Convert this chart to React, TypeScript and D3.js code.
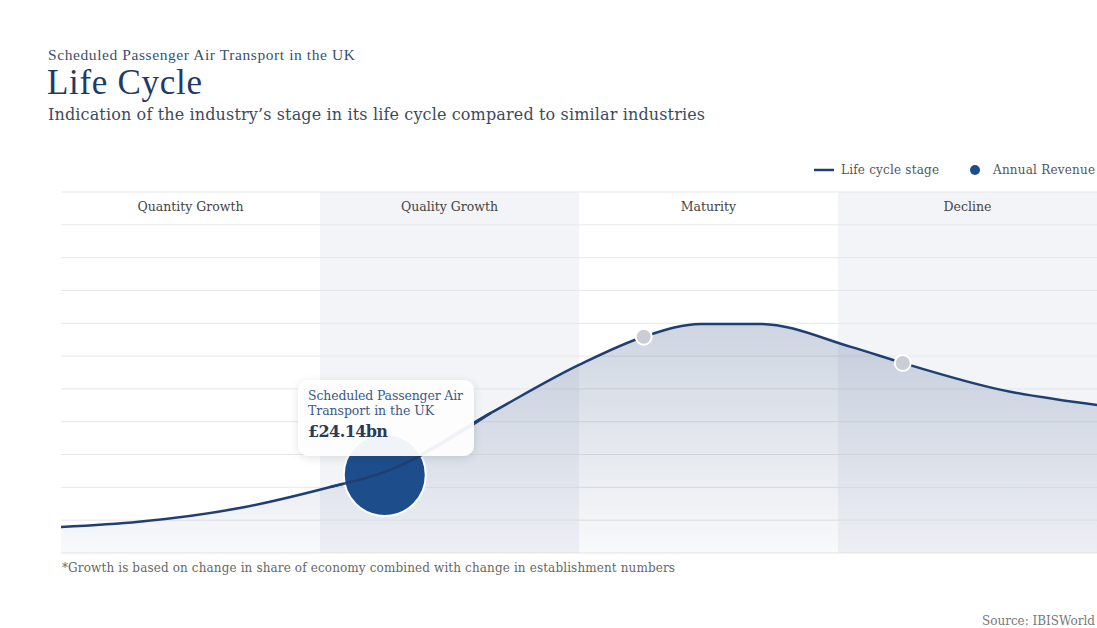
import React from "react";
import * as d3 from "d3";

const stages = ["Quantity Growth", "Quality Growth", "Maturity", "Decline"];
// life cycle curve: x in stage units (0..4), y in grid units (0..11)
const curveX = [0, 0.3, 0.69, 1.04, 1.25, 1.66, 2.0, 2.25, 2.47, 2.7, 3.05, 3.25, 3.63, 4.0];
const curveY = [0.79, 0.95, 1.37, 2.01, 2.47, 4.27, 5.73, 6.59, 6.98, 6.98, 6.28, 5.79, 4.97, 4.51];
const markerX = [2.25, 3.25];
const revenuePoint = { x: 1.25, label1: "Scheduled Passenger Air", label2: "Transport in the UK", value: "£24.14bn" };
const gridTicks = d3.range(0, 12);

const W = 1097;
const H = 628;
const left = 61;
const right = 1097;
const top = 192;
const bottom = 553;
const TIMES = "'Liberation Serif', 'Times New Roman', serif";
const SERIF = "'DejaVu Serif', Georgia, serif";

export default function App() {
  const x = d3.scaleLinear().domain([0, 4]).range([left, right]);
  const y = d3.scaleLinear().domain([0, 11]).range([bottom, top]);
  const pts: [number, number][] = curveX.map((v, i) => [v, curveY[i]]);
  const line = d3.line<[number, number]>().x((d) => x(d[0])).y((d) => y(d[1])).curve(d3.curveMonotoneX);
  const area = d3.area<[number, number]>().x((d) => x(d[0])).y0(y(0)).y1((d) => y(d[1])).curve(d3.curveMonotoneX);
  const pixPts: [number, number][] = pts.map((d) => [x(d[0]), y(d[1])]);
  const interp = (xv: number) => {
    const px = x(xv);
    for (let i = 0; i < pixPts.length - 1; i++) {
      if (px >= pixPts[i][0] && px <= pixPts[i + 1][0]) {
        const t = (px - pixPts[i][0]) / (pixPts[i + 1][0] - pixPts[i][0]);
        return pixPts[i][1] + t * (pixPts[i + 1][1] - pixPts[i][1]);
      }
    }
    return pixPts[pixPts.length - 1][1];
  };
  const bandW = x(1) - x(0);
  const rx = x(revenuePoint.x);
  const ry = interp(revenuePoint.x);

  return (
    <svg width={W} height={H} style={{ position: "absolute", left: 0, top: 0, background: "#fff" }}>
      <defs>
        <linearGradient id="aGrad" gradientUnits="userSpaceOnUse" x1={0} y1={y(7)} x2={0} y2={bottom}>
          <stop offset="0" stopColor="#1f3f73" stopOpacity={0.22} />
          <stop offset="1" stopColor="#1f3f73" stopOpacity={0.03} />
        </linearGradient>
        <filter id="shadow" x="-20%" y="-20%" width="140%" height="160%">
          <feDropShadow dx="0" dy="2" stdDeviation="4" floodColor="#000" floodOpacity="0.12" />
        </filter>
      </defs>

      <text x={48} y={60} fontFamily={TIMES} fontSize={15.5} fill="#3b4f6e" textLength={307}>Scheduled Passenger Air Transport in the UK</text>
      <text x={47} y={94} fontFamily={TIMES} fontSize={35} fill="#1f3a63" textLength={155}>Life Cycle</text>
      <text x={48} y={120} fontFamily={SERIF} fontSize={16} fill="#3b4a60" textLength={657}>Indication of the industry’s stage in its life cycle compared to similar industries</text>

      {/* legend */}
      <line x1={814} x2={834} y1={170} y2={170} stroke="#1f3f73" strokeWidth={2.5} />
      <text x={841} y={174} fontFamily={SERIF} fontSize={12} fill="#555" textLength={98}>Life cycle stage</text>
      <circle cx={975} cy={170} r={5} fill="#1e4d8c" />
      <text x={993} y={174} fontFamily={SERIF} fontSize={12} fill="#555" textLength={102}>Annual Revenue</text>

      {/* bands */}
      {stages.map((s, i) => (
        <rect key={s} x={x(i)} y={top} width={bandW} height={bottom - top} fill={i % 2 === 1 ? "#f3f4f8" : "#ffffff"} />
      ))}
      {gridTicks.map((t) => (
        <line key={t} x1={left} x2={right} y1={y(t)} y2={y(t)} stroke="#e5e7eb" strokeWidth={1} />
      ))}
      {stages.map((s, i) => (
        <text key={s} x={x(i + 0.5)} y={211} textAnchor="middle" fontFamily={SERIF} fontSize={12.5} fill="#444">{s}</text>
      ))}

      <path d={area(pts) || ""} fill="url(#aGrad)" />
      <path d={line(pts) || ""} fill="none" stroke="#1f3f73" strokeWidth={2.5} />

      {markerX.map((m) => (
        <circle key={m} cx={x(m)} cy={interp(m)} r={8} fill="#c9ced6" stroke="#fff" strokeWidth={2} />
      ))}

      <circle cx={rx} cy={ry + 3} r={41} fill="#1e4d8c" stroke="#fff" strokeWidth={2} />
      <path d={line(pts.filter((d) => d[0] >= 1.04 && d[0] <= 1.66)) || ""} fill="none" stroke="#1f3f73" strokeWidth={2.5} />

      {/* tooltip */}
      <g filter="url(#shadow)">
        <rect x={298} y={380} width={176} height={76} rx={10} fill="#fff" fillOpacity={0.93} />
      </g>
      <text x={308} y={400} fontFamily={SERIF} fontSize={12.5} fill="#3b5a88" textLength={155}>{revenuePoint.label1}</text>
      <text x={308} y={415} fontFamily={SERIF} fontSize={12.5} fill="#3b5a88" textLength={126}>{revenuePoint.label2}</text>
      <text x={308} y={437} fontFamily={SERIF} fontSize={16} fontWeight="bold" fill="#2b3a58" textLength={80}>{revenuePoint.value}</text>

      <text x={62} y={572} fontFamily={SERIF} fontSize={12} fill="#666" textLength={613}>*Growth is based on change in share of economy combined with change in establishment numbers</text>
      <text x={982} y={625} fontFamily={SERIF} fontSize={12} fill="#777" textLength={113}>Source: IBISWorld</text>
    </svg>
  );
}
